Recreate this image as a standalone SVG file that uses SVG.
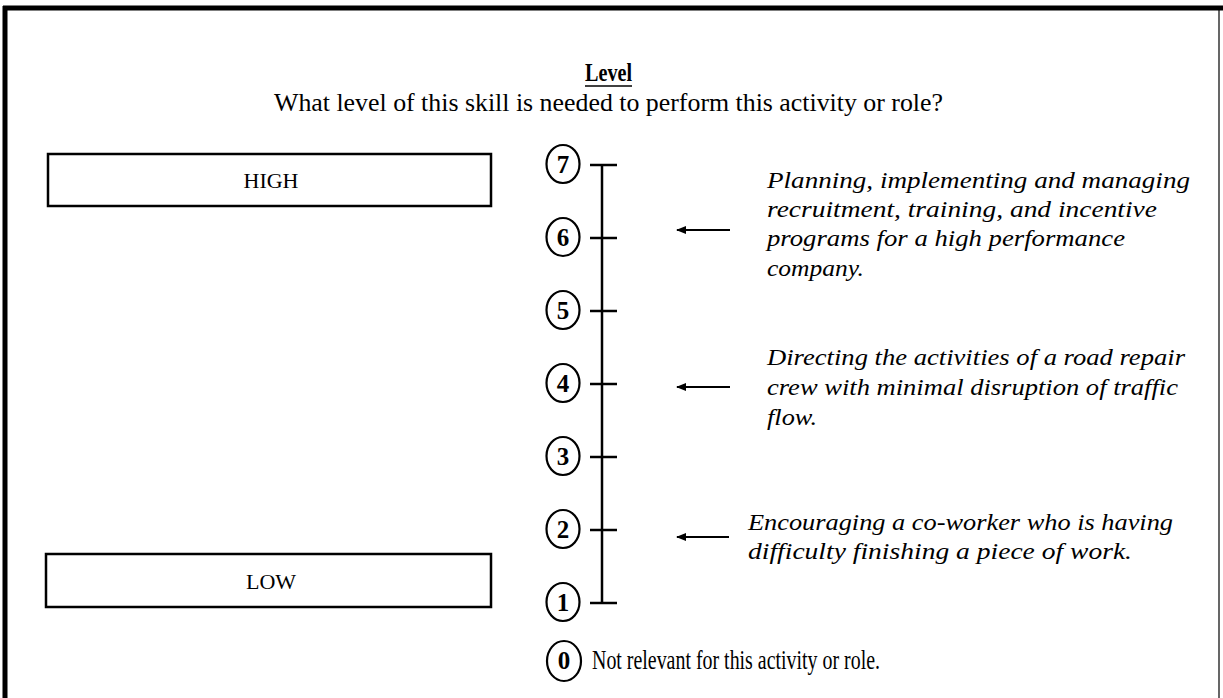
<svg xmlns="http://www.w3.org/2000/svg" width="1223" height="698" viewBox="0 0 1223 698">
<style>
.t{font-family:"Liberation Serif","Times New Roman",serif;fill:#000}
.it{font-family:"Liberation Serif","Times New Roman",serif;font-style:italic;font-size:23px;fill:#000}
.box{fill:#fff;stroke:#000;stroke-width:2.5}
.circ{fill:#fff;stroke:#000;stroke-width:2.2}
.num{font-family:"Liberation Serif","Times New Roman",serif;font-weight:bold;font-size:25px;text-anchor:middle;fill:#000}
.ln{stroke:#000;stroke-width:2.5;fill:none}
.arr{stroke:#000;stroke-width:1.8;fill:none;marker-start:url(#ah)}
</style>
<defs>
<marker id="ah" viewBox="0 0 10 10" refX="1" refY="5" markerWidth="10" markerHeight="8" orient="auto" markerUnits="userSpaceOnUse" preserveAspectRatio="none">
<path d="M10,0 L0,5 L10,10 z" fill="#000"/>
</marker>
</defs>
<rect width="1223" height="698" fill="#fff"/>
<g id="frame">
<line x1="3" y1="8" x2="1223" y2="8" stroke="#000" stroke-width="5"/>
<line x1="5" y1="6" x2="5" y2="698" stroke="#000" stroke-width="5"/>
<line x1="1219" y1="8" x2="1219" y2="698" stroke="#000" stroke-width="1.2"/>
</g>
<g id="title">
<text class="t" x="585" y="81" font-size="25" font-weight="bold" textLength="47" lengthAdjust="spacingAndGlyphs">Level</text>
<line x1="585" y1="86" x2="632" y2="86" stroke="#000" stroke-width="1.6"/>
<text class="t" x="274" y="111" font-size="26" textLength="669" lengthAdjust="spacingAndGlyphs">What level of this skill is needed to perform this activity or role?</text>
</g>
<g id="high">
<rect class="box" x="48" y="154" width="443" height="52"/>
<text class="t" x="271" y="188" font-size="22" text-anchor="middle">HIGH</text>
</g>
<g id="low">
<rect class="box" x="46" y="554" width="445" height="53"/>
<text class="t" x="271" y="589" font-size="22" text-anchor="middle">LOW</text>
</g>
<g id="scale">
<line class="ln" x1="602" y1="165" x2="602" y2="604"/>
<line class="ln" x1="590" y1="165" x2="617" y2="165"/>
<line class="ln" x1="590" y1="238" x2="617" y2="238"/>
<line class="ln" x1="590" y1="311" x2="617" y2="311"/>
<line class="ln" x1="590" y1="384" x2="617" y2="384"/>
<line class="ln" x1="590" y1="457" x2="617" y2="457"/>
<line class="ln" x1="590" y1="530" x2="617" y2="530"/>
<line class="ln" x1="590" y1="603" x2="617" y2="603"/>
</g>
<g id="lvl7"><ellipse class="circ" cx="563" cy="164" rx="16.5" ry="19"/><text class="num" x="563" y="173">7</text></g>
<g id="lvl6"><ellipse class="circ" cx="563" cy="237" rx="16.5" ry="19"/><text class="num" x="563" y="246">6</text></g>
<g id="lvl5"><ellipse class="circ" cx="563" cy="310" rx="16.5" ry="19"/><text class="num" x="563" y="319">5</text></g>
<g id="lvl4"><ellipse class="circ" cx="563" cy="383" rx="16.5" ry="19"/><text class="num" x="563" y="392">4</text></g>
<g id="lvl3"><ellipse class="circ" cx="563" cy="456" rx="16.5" ry="19"/><text class="num" x="563" y="465">3</text></g>
<g id="lvl2"><ellipse class="circ" cx="563" cy="529" rx="16.5" ry="19"/><text class="num" x="563" y="538">2</text></g>
<g id="lvl1"><ellipse class="circ" cx="563" cy="602" rx="16.5" ry="19"/><text class="num" x="563" y="611">1</text></g>
<g id="lvl0">
<ellipse class="circ" cx="564" cy="661" rx="17" ry="20"/><text class="num" x="564" y="669" font-size="22">0</text>
<text class="t" x="592" y="669" font-size="27" textLength="288" lengthAdjust="spacingAndGlyphs">Not relevant for this activity or role.</text>
</g>
<g id="connectors">
<line class="arr" x1="677" y1="230" x2="730" y2="230"/>
<line class="arr" x1="677" y1="387" x2="730" y2="387"/>
<line class="arr" x1="677" y1="537" x2="729" y2="537"/>
</g>
<g id="ex6">
<text class="it" x="767" y="188" textLength="423" lengthAdjust="spacingAndGlyphs">Planning, implementing and managing</text>
<text class="it" x="767" y="217" textLength="390" lengthAdjust="spacingAndGlyphs">recruitment, training, and incentive</text>
<text class="it" x="767" y="246" textLength="358" lengthAdjust="spacingAndGlyphs">programs for a high performance</text>
<text class="it" x="767" y="276" textLength="97" lengthAdjust="spacingAndGlyphs">company.</text>
</g>
<g id="ex4">
<text class="it" x="767" y="365" textLength="418" lengthAdjust="spacingAndGlyphs">Directing the activities of a road repair</text>
<text class="it" x="767" y="395" textLength="411" lengthAdjust="spacingAndGlyphs">crew with minimal disruption of traffic</text>
<text class="it" x="767" y="425" textLength="50" lengthAdjust="spacingAndGlyphs">flow.</text>
</g>
<g id="ex2">
<text class="it" x="748" y="530" textLength="425" lengthAdjust="spacingAndGlyphs">Encouraging a co-worker who is having</text>
<text class="it" x="748" y="559" textLength="384" lengthAdjust="spacingAndGlyphs">difficulty finishing a piece of work.</text>
</g>
</svg>
